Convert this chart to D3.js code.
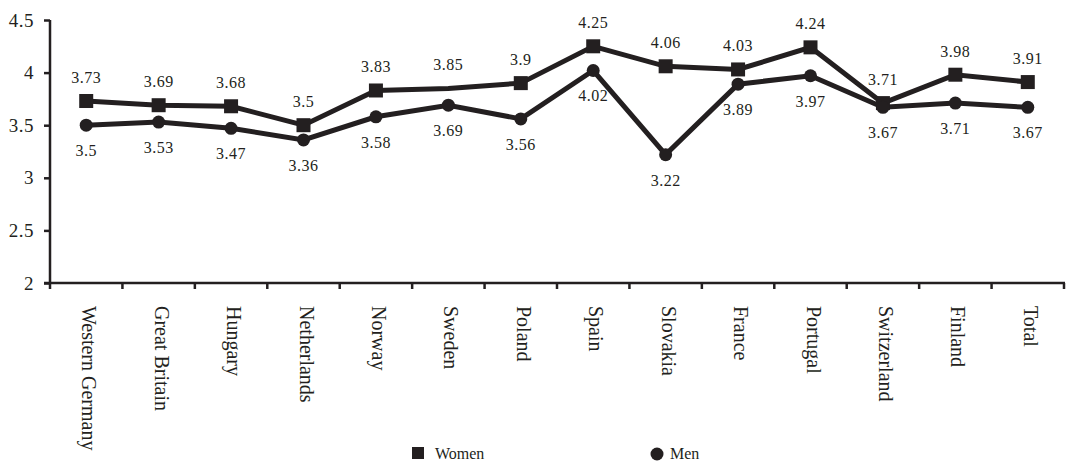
<!DOCTYPE html>
<html>
<head>
<meta charset="utf-8">
<script src="https://cdn.jsdelivr.net/npm/d3@7"></script>
<style>
  html, body { margin: 0; padding: 0; background: #fff; }
  svg { display: block; }
  text { font-family: "Liberation Serif", "Times New Roman", serif; fill: #231f20; }
</style>
</head>
<body>
<svg id="chart" width="1072" height="464"></svg>
<script>
// Mean scores by country, women and men
const categories = ["Western Germany", "Great Britain", "Hungary", "Netherlands", "Norway", "Sweden",
  "Poland", "Spain", "Slovakia", "France", "Portugal", "Switzerland", "Finland", "Total"];
const women = [3.73, 3.69, 3.68, 3.5, 3.83, 3.85, 3.9, 4.25, 4.06, 4.03, 4.24, 3.71, 3.98, 3.91];
const men = [3.5, 3.53, 3.47, 3.36, 3.58, 3.69, 3.56, 4.02, 3.22, 3.89, 3.97, 3.67, 3.71, 3.67];
// Sweden's women point is drawn without a marker
const womenMarker = [true, true, true, true, true, false, true, true, true, true, true, true, true, true];
const yTicks = [2, 2.5, 3, 3.5, 4, 4.5];

const ink = "#231f20";
const svg = d3.select("#chart");
const plotLeft = 50, plotRight = 1064, plotTop = 20, plotBottom = 283;

const x = d3.scaleBand().domain(categories).range([plotLeft, plotRight]).padding(0);
const y = d3.scaleLinear().domain([2, 4.5]).range([plotBottom, plotTop]);
const cx = c => x(c) + x.bandwidth() / 2;

// Y axis
const yAxis = svg.append("g")
  .attr("transform", `translate(${plotLeft},0)`)
  .call(d3.axisLeft(y).tickValues(yTicks).tickSize(6).tickPadding(10).tickFormat(d3.format("")));
yAxis.select(".domain").attr("stroke", ink).attr("stroke-width", 2.5).attr("d", `M0,${plotTop}V${plotBottom + 1}`);
yAxis.selectAll(".tick line").attr("stroke", ink).attr("stroke-width", 2.5);
yAxis.selectAll(".tick text")
  .style("font-family", "'Liberation Serif', serif").style("font-size", "19px")
  .attr("fill", ink).attr("dy", "0.32em").attr("letter-spacing", "0.5");

// X axis: ticks at the band boundaries
const xAxis = svg.append("g").attr("transform", `translate(0,${plotBottom})`);
xAxis.append("line").attr("x1", plotLeft - 6).attr("x2", plotRight + 1)
  .attr("stroke", ink).attr("stroke-width", 2.5);
const bounds = categories.map(c => x(c)).concat([plotRight]);
xAxis.selectAll("line.tk").data(bounds).join("line").attr("class", "tk")
  .attr("x1", d => d).attr("x2", d => d).attr("y1", 0).attr("y2", 6)
  .attr("stroke", ink).attr("stroke-width", 2.5);

svg.append("g").selectAll("text").data(categories).join("text")
  .attr("transform", d => `translate(${cx(d) - 4},${plotBottom + 23}) rotate(90)`)
  .attr("text-anchor", "start")
  .style("font-size", "20px")
  .text(d => d);

// Lines
const line = d3.line().x((d, i) => cx(categories[i])).y(d => y(d));
[women, men].forEach(series => {
  svg.append("path").datum(series)
    .attr("d", line).attr("fill", "none")
    .attr("stroke", ink).attr("stroke-width", 5).attr("stroke-linejoin", "miter");
});

// Markers
const sq = 14;
svg.append("g").selectAll("rect").data(women.map((v, i) => ({ v, i })).filter(d => womenMarker[d.i]))
  .join("rect")
  .attr("x", d => cx(categories[d.i]) - sq / 2).attr("y", d => y(d.v) - sq / 2)
  .attr("width", sq).attr("height", sq).attr("fill", ink);
svg.append("g").selectAll("circle").data(men).join("circle")
  .attr("cx", (d, i) => cx(categories[i])).attr("cy", d => y(d)).attr("r", 6.5).attr("fill", ink);

// Value labels
svg.append("g").selectAll("text").data(women).join("text")
  .attr("x", (d, i) => cx(categories[i])).attr("y", d => y(d) - 18)
  .attr("text-anchor", "middle").attr("letter-spacing", "0.5")
  .style("font-size", "16px").text(d => d);
svg.append("g").selectAll("text").data(men).join("text")
  .attr("x", (d, i) => cx(categories[i])).attr("y", d => y(d) + 31)
  .attr("text-anchor", "middle").attr("letter-spacing", "0.5")
  .style("font-size", "16px").text(d => d);

// Legend
const legend = svg.append("g");
legend.append("rect").attr("x", 412).attr("y", 447).attr("width", 12).attr("height", 12).attr("fill", ink);
legend.append("text").attr("x", 435).attr("y", 459).style("font-size", "16px").text("Women");
legend.append("circle").attr("cx", 657).attr("cy", 454).attr("r", 6.5).attr("fill", ink);
legend.append("text").attr("x", 670).attr("y", 459).style("font-size", "16px").text("Men");
</script>
</body>
</html>
